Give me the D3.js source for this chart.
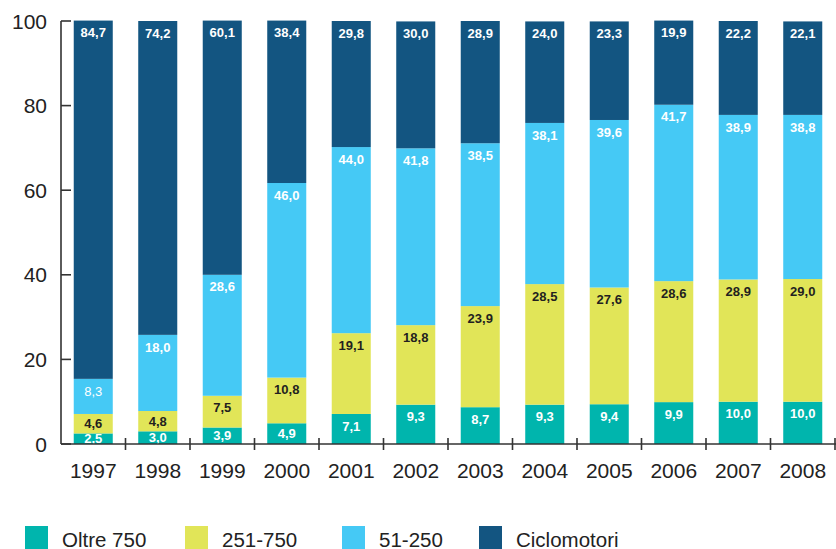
<!DOCTYPE html>
<html>
<head>
<meta charset="utf-8">
<script src="https://cdn.jsdelivr.net/npm/d3@7"></script>
<style>
    body { margin: 0; background: #fff; }
    svg { display: block; font-family: "Liberation Sans", Arial, sans-serif; }
</style>
</head>
<body>
<div id="canvas"></div>
<script>
"use strict";

/* ---------------- DATA ---------------- */
let years = ["1997", "1998", "1999", "2000", "2001", "2002", "2003", "2004", "2005", "2006", "2007", "2008"];
let oltre750 = [2.5, 3.0, 3.9, 4.9, 7.1, 9.3, 8.7, 9.3, 9.4, 9.9, 10.0, 10.0];
let cc251_750 = [4.6, 4.8, 7.5, 10.8, 19.1, 18.8, 23.9, 28.5, 27.6, 28.6, 28.9, 29.0];
let cc51_250 = [8.3, 18.0, 28.6, 46.0, 44.0, 41.8, 38.5, 38.1, 39.6, 41.7, 38.9, 38.8];
let ciclomotori = [84.7, 74.2, 60.1, 38.4, 29.8, 30.0, 28.9, 24.0, 23.3, 19.9, 22.2, 22.1];
let seriesNames = ["Oltre 750", "251-750", "51-250", "Ciclomotori"];
let yTicks = [0, 20, 40, 60, 80, 100];

let svgWidth = 836;
let svgHeight = 549;

let margin = { top: 21, right: 0, bottom: 105, left: 61 };

let colors = {
    "Oltre 750": "#00b5ad",
    "251-750": "#e1e558",
    "51-250": "#45c9f5",
    "Ciclomotori": "#135581"
};
let labelColors = {
    "Oltre 750": "#ffffff",
    "251-750": "#231f20",
    "51-250": "#ffffff",
    "Ciclomotori": "#ffffff"
};
let axisColor = "#333333";

let svg = d3.select("#canvas")
    .append("svg")
    .attr("width", svgWidth)
    .attr("height", svgHeight);

/* ---------------- TABLE ---------------- */
let table = years.map(function (y, i) {
    return {
        year: y,
        "Oltre 750": oltre750[i],
        "251-750": cc251_750[i],
        "51-250": cc51_250[i],
        "Ciclomotori": ciclomotori[i]
    };
});

let stacked = d3.stack().keys(seriesNames)(table);

/* ---------------- SCALES ---------------- */
let x0 = 61, x1 = 835;
let y0 = 444, y1 = 21;

let xScale = d3.scaleBand()
    .domain(years)
    .range([x0, x1])
    .paddingInner(0.395)
    .paddingOuter(0.1975);

let xCells = d3.scaleBand()
    .domain(years)
    .range([x0, x1])
    .padding(0);

let yScale = d3.scaleLinear()
    .domain([0, 100])
    .range([y0, y1]);

/* ---------------- BARS ---------------- */
let barsLayer = svg.append("g").attr("id", "barsLayer");

stacked.forEach(function (layer) {
    let key = layer.key;
    let g = barsLayer.append("g");

    g.selectAll("rect")
        .data(layer)
        .join("rect")
        .attr("x", d => xScale(d.data.year))
        .attr("y", d => yScale(d[1]))
        .attr("width", xScale.bandwidth())
        .attr("height", d => yScale(d[0]) - yScale(d[1]))
        .attr("fill", colors[key]);

    g.selectAll("text")
        .data(layer)
        .join("text")
        .attr("x", d => xScale(d.data.year) + xScale.bandwidth() / 2)
        .attr("y", function (d) {
            let top = yScale(d[1]);
            let h = yScale(d[0]) - top;
            return top + Math.min(h / 2, 12);
        })
        .attr("dy", "0.36em")
        .attr("text-anchor", "middle")
        .attr("font-size", "13px")
        .attr("font-weight", d => (key === "51-250" && d.data.year === "1997") ? "normal" : "bold")
        .attr("fill", labelColors[key])
        .text(d => d3.format(".1f")(d.data[key]).replace(".", ","));
});

/* ---------------- Y AXIS ---------------- */
let yAxis = svg.append("g");

yAxis.append("line")
    .attr("x1", x0).attr("x2", x0)
    .attr("y1", y1).attr("y2", y0)
    .attr("stroke", axisColor)
    .attr("stroke-width", 1.6);

yTicks.forEach(function (t) {
    yAxis.append("line")
        .attr("x1", x0).attr("x2", x0 + 10)
        .attr("y1", yScale(t)).attr("y2", yScale(t))
        .attr("stroke", axisColor)
        .attr("stroke-width", 1.6);

    yAxis.append("text")
        .attr("x", 47)
        .attr("y", yScale(t))
        .attr("dy", "0.36em")
        .attr("text-anchor", "end")
        .attr("font-size", "21px")
        .attr("fill", "#222")
        .text(t);
});

/* ---------------- X AXIS ---------------- */
let xAxis = svg.append("g");

xAxis.append("line")
    .attr("x1", x0).attr("x2", svgWidth)
    .attr("y1", y0).attr("y2", y0)
    .attr("stroke", axisColor)
    .attr("stroke-width", 1.6);

years.forEach(function (yr, i) {
    let bx = xCells(yr) + xCells.bandwidth();
    xAxis.append("line")
        .attr("x1", bx).attr("x2", bx)
        .attr("y1", y0 - 6).attr("y2", y0 + 6)
        .attr("stroke", axisColor)
        .attr("stroke-width", 1.6);

    xAxis.append("text")
        .attr("x", xCells(yr) + xCells.bandwidth() / 2)
        .attr("y", 478)
        .attr("text-anchor", "middle")
        .attr("font-size", "21px")
        .attr("fill", "#222")
        .text(yr);
});

/* ---------------- LEGEND ---------------- */
let legendX = [25, 185, 342, 479];

seriesNames.forEach(function (name, i) {
    svg.append("rect")
        .attr("x", legendX[i])
        .attr("y", 526)
        .attr("width", 23)
        .attr("height", 23)
        .attr("fill", colors[name]);

    svg.append("text")
        .attr("x", legendX[i] + 37)
        .attr("y", 547)
        .attr("font-size", "20.5px")
        .attr("fill", "#222")
        .text(name);
});
</script>
</body>
</html>
